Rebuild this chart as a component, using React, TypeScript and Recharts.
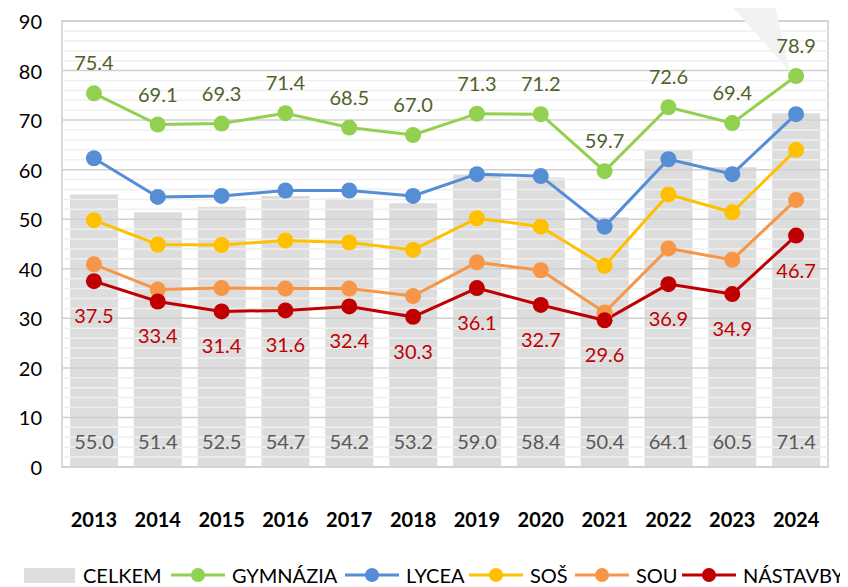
import React from "react";
import {
  ComposedChart,
  Bar,
  Line,
  XAxis,
  YAxis,
  Legend,
  LabelList,
  ReferenceLine,
  ReferenceArea,
} from "recharts";

const years = ["2013", "2014", "2015", "2016", "2017", "2018", "2019", "2020", "2021", "2022", "2023", "2024"];
const celkem = [55.0, 51.4, 52.5, 54.7, 54.2, 53.2, 59.0, 58.4, 50.4, 64.1, 60.5, 71.4];
const gymnazia = [75.4, 69.1, 69.3, 71.4, 68.5, 67.0, 71.3, 71.2, 59.7, 72.6, 69.4, 78.9];
const lycea = [62.3, 54.5, 54.7, 55.8, 55.8, 54.7, 59.1, 58.7, 48.5, 62.1, 59.1, 71.2];
const sos = [49.8, 44.9, 44.8, 45.7, 45.3, 43.8, 50.2, 48.5, 40.6, 55.0, 51.4, 64.0];
const sou = [40.9, 35.8, 36.1, 36.0, 36.0, 34.5, 41.3, 39.7, 31.2, 44.1, 41.8, 53.9];
const nastavby = [37.5, 33.4, 31.4, 31.6, 32.4, 30.3, 36.1, 32.7, 29.6, 36.9, 34.9, 46.7];

const majorTicks = [0, 10, 20, 30, 40, 50, 60, 70, 80, 90];
const minorTicks = Array.from({ length: 46 }, (_, i) => i * 2).filter((v) => v % 10 !== 0);

const data = years.map((year, i) => ({
  year,
  celkem: celkem[i],
  gymnazia: gymnazia[i],
  lycea: lycea[i],
  sos: sos[i],
  sou: sou[i],
  nastavby: nastavby[i],
}));

const FONT = "Lato, 'Open Sans', sans-serif";

// legend label widths tuned to the reference spacing
const lines = [
  { key: "gymnazia", name: "GYMNÁZIA", color: "#92D050", w: 113 },
  { key: "lycea", name: "LYCEA", color: "#558ED5", w: 63 },
  { key: "sos", name: "SOŠ", color: "#FFC000", w: 45 },
  { key: "sou", name: "SOU", color: "#F79646", w: 46 },
  { key: "nastavby", name: "NÁSTAVBY", color: "#C00000", w: 96 },
];

const fmt = (v: number) => v.toFixed(1);

const YearTick = (props: any) => {
  const { x, y, payload } = props;
  return (
    <text x={x} y={y + 44} textAnchor="middle" dominantBaseline="central" fontFamily={FONT} fontWeight={700} fontSize={20} fill="#000">
      {payload.value}
    </text>
  );
};

const ValueTick = (props: any) => {
  const { x, y, payload } = props;
  return (
    <text x={x - 12} y={y} textAnchor="end" dominantBaseline="central" fontFamily={FONT} fontSize={20} fill="#000">
      {payload.value}
    </text>
  );
};

const BarLabel = (props: any) => {
  const { x, width, y, height, value } = props;
  return (
    <text x={x + width / 2} y={y + height - 26} textAnchor="middle" dominantBaseline="central" fontFamily={FONT} fontSize={20} fill="#595959">
      {fmt(value)}
    </text>
  );
};

const GymLabel = (props: any) => {
  const { x, y, value, index } = props;
  const last = index === years.length - 1;
  return (
    <g>
      {last && (
        <polygon points={`${x - 84},${y - 92} ${x - 26},${y - 92} ${x - 6},${y - 4}`} fill="#f2f2f2" />
      )}
      <text x={x} y={y - 31} textAnchor="middle" dominantBaseline="central" fontFamily={FONT} fontSize={20} fill="#4F6228">
        {fmt(value)}
      </text>
    </g>
  );
};

const NasLabel = (props: any) => {
  const { x, y, value } = props;
  return (
    <text x={x} y={y + 34} textAnchor="middle" dominantBaseline="central" fontFamily={FONT} fontSize={20} fill="#C00000">
      {fmt(value)}
    </text>
  );
};

const LegendContent = () => (
  <div
    style={{
      display: "flex",
      alignItems: "center",
      height: 24,
      marginTop: 6,
      fontFamily: FONT,
      fontSize: 20,
      lineHeight: "24px",
      color: "#000",
      paddingLeft: 16,
      whiteSpace: "nowrap",
    }}
  >
    <span style={{ flexShrink: 0, display: "inline-block", width: 51, height: 15, background: "#DDDDDD", marginRight: 8 }} />
    <span style={{ flexShrink: 0, display: "inline-block", width: 88 }}>CELKEM</span>
    {lines.map((l) => (
      <React.Fragment key={l.key}>
        <svg width={54} height={20} style={{ flexShrink: 0, marginRight: 7 }}>
          <line x1={0} y1={10} x2={54} y2={10} stroke={l.color} strokeWidth={3} />
          <circle cx={27} cy={10} r={7} fill={l.color} />
        </svg>
        <span style={{ flexShrink: 0, display: "inline-block", width: l.w }}>{l.name}</span>
      </React.Fragment>
    ))}
  </div>
);

export default function App() {
  return (
    <ComposedChart
      width={840}
      height={579}
      data={data}
      margin={{ top: 13, right: 20, bottom: 0, left: 0 }}
      barCategoryGap="25%"
    >
      <XAxis dataKey="year" axisLine={false} tickLine={false} tick={<YearTick />} height={90} interval={0} />
      <YAxis domain={[0, 90]} ticks={majorTicks} axisLine={false} tickLine={false} tick={<ValueTick />} width={54} interval={0} />
      <Bar dataKey="celkem" name="CELKEM" fill="#DDDDDD" barSize={48} isAnimationActive={false}>
        <LabelList dataKey="celkem" content={<BarLabel />} />
      </Bar>
      {minorTicks.map((v) => (
        <ReferenceLine key={"m" + v} y={v} stroke="#efefef" strokeWidth={1.5} />
      ))}
      {majorTicks.map((v) => (
        <ReferenceLine key={"M" + v} y={v} stroke="#d0d0d0" strokeWidth={1.5} />
      ))}
      <ReferenceArea y1={0} y2={90} fill="none" stroke="#d9d9d9" strokeWidth={2} />
      {lines.map((l) => (
        <Line
          key={l.key}
          dataKey={l.key}
          name={l.name}
          stroke={l.color}
          strokeWidth={3}
          dot={{ r: 8, fill: l.color, stroke: "none" }}
          activeDot={false}
          isAnimationActive={false}
        >
          {l.key === "gymnazia" && <LabelList dataKey="gymnazia" content={<GymLabel />} />}
          {l.key === "nastavby" && <LabelList dataKey="nastavby" content={<NasLabel />} />}
        </Line>
      ))}
      <Legend verticalAlign="bottom" content={<LegendContent />} wrapperStyle={{ height: 30, width: 848, left: 0 }} />
    </ComposedChart>
  );
}
